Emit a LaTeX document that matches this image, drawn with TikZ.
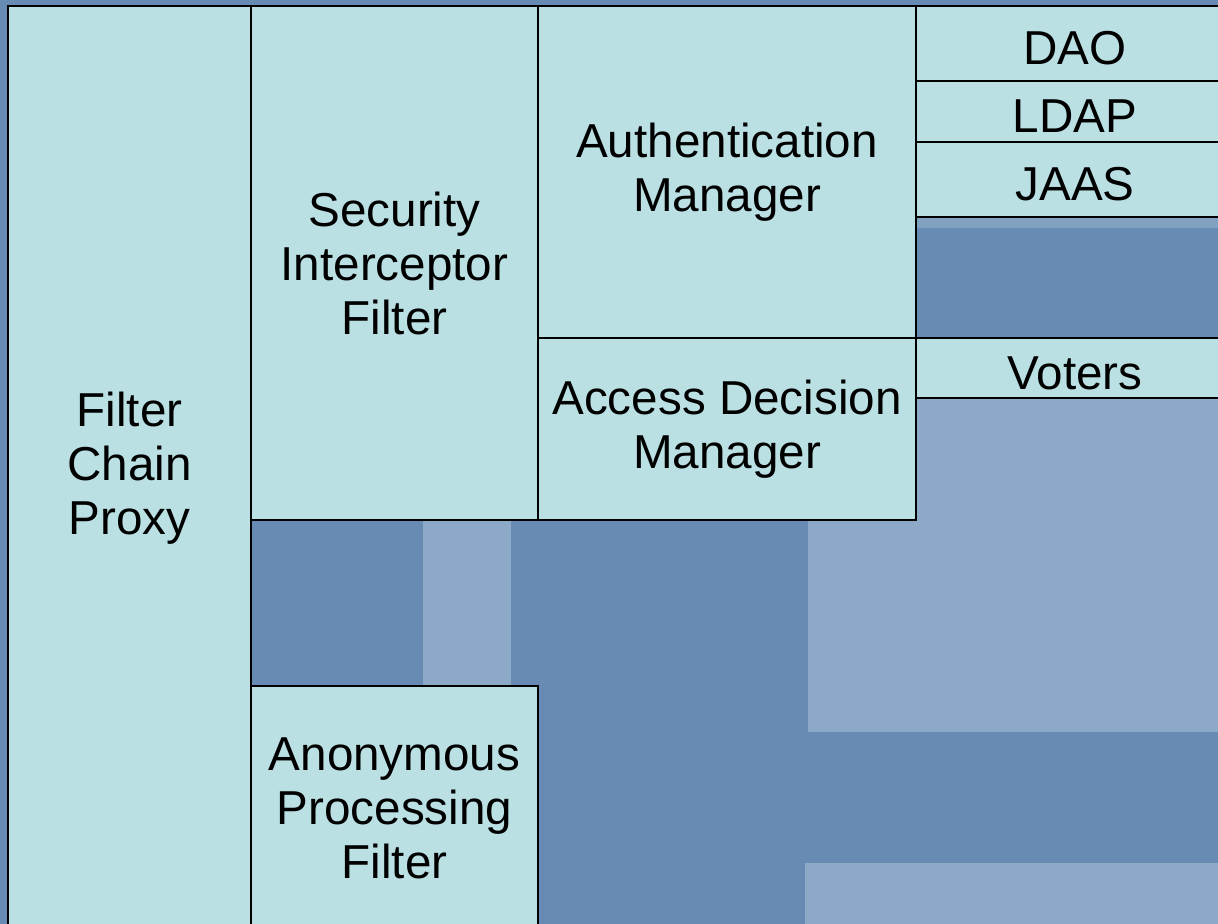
\documentclass[tikz,border=0pt]{standalone}
\usepackage{fontspec}
\setmainfont{Liberation Sans}
\usepackage{tikz}
\definecolor{boxfill}{RGB}{186,224,227}
\definecolor{backdark}{RGB}{103,139,178}
\definecolor{backlight}{RGB}{140,170,199}
\begin{document}
\begin{tikzpicture}[x=0.5pt,y=-0.5pt,
  box/.style={draw,line width=1pt,fill=boxfill,anchor=north west,inner sep=0pt,outer sep=0pt,
    align=center,font=\fontsize{23.8}{27}\selectfont,
    execute at begin node={\rule{0pt}{21.5pt}}}]

  % backdrop
  \useasboundingbox (0,0) rectangle (1218,924);
  \fill[backdark] (0,0) rectangle (1218,924);
  \fill[backlight] (423,520) rectangle (511,700);
  \fill[backlight] (808,398) rectangle (1234,732);
  \fill[backlight] (805,863) rectangle (1234,930);
  \fill[backlight!70!backdark] (916,217) rectangle (1234,228);

  \node[box,minimum width=121.5pt,minimum height=462pt] (fcp) at (8,6) {Filter\\Chain\\Proxy};
  \node[box,minimum width=143.5pt,minimum height=257pt] (sif) at (fcp.north east) {Security\\Interceptor\\Filter};
  \node[box,minimum width=189pt,minimum height=166pt] (authmgr) at (sif.north east) {Authentication\\Manager};
  \node[box,minimum width=189pt,minimum height=91pt] (adm) at (authmgr.south west) {Access Decision\\Manager};

  \node[box,minimum width=159pt,minimum height=37.5pt] (dao) at (authmgr.north east) {DAO};
  \node[box,minimum width=159pt,minimum height=30.5pt] (ldap) at (dao.south west) {LDAP};
  \node[box,minimum width=159pt,minimum height=37.5pt] (jaas) at (ldap.south west) {JAAS};
  \node[box,minimum width=159pt,minimum height=30pt] (voters) at (adm.north east) {Voters};

  \node[box,minimum width=143.5pt,minimum height=122pt] (apf) at (251,686) {Anonymous\\Processing\\Filter};
\end{tikzpicture}
\end{document}
